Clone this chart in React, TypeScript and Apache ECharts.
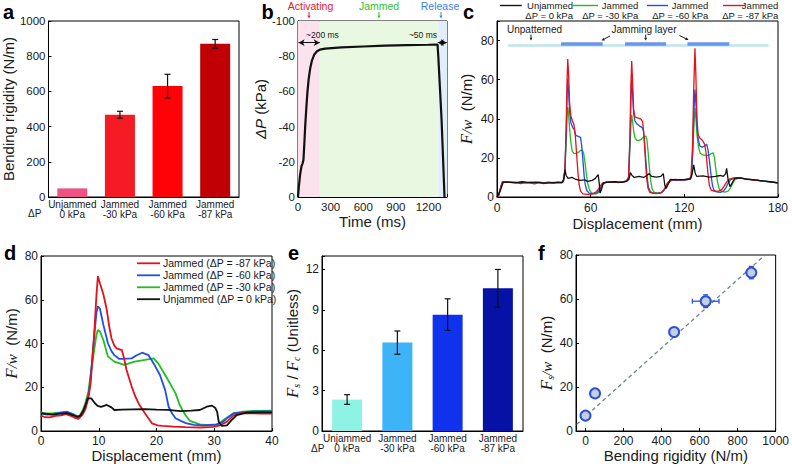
import React, { useEffect, useRef } from 'react';
import * as echarts from 'echarts';

const FONT = '"Liberation Sans", Arial, Helvetica, sans-serif';
const SERIF = '"Liberation Serif", "Times New Roman", serif';

// ---------- Panel a: bending rigidity ----------
const barCategories = ['Unjammed\n0 kPa', 'Jammed\n-30 kPa', 'Jammed\n-60 kPa', 'Jammed\n-87 kPa'];
const rigidity = [49, 467, 631, 871];
const rigidityLow = [49, 448, 562, 846];
const rigidityHigh = [49, 487, 697, 895];
const rigidityColors = ['#ee5383', '#f51a24', '#fe0205', '#c10006'];

// ---------- Panel b: pressure vs time ----------
const timeMs = [0, 8, 20, 32, 42, 50, 58, 66, 76, 86, 98, 112, 128, 150, 175, 200, 250, 400, 600, 800, 1000, 1200, 1283, 1290, 1305, 1320, 1335, 1347];
const pressureKPa = [0, -6, -13, -17.5, -19, -21, -30, -40, -50, -59, -67, -73, -77.5, -81, -82.8, -83.7, -84.3, -85, -85.5, -86, -86.3, -86.5, -86.6, -80, -62, -44, -20, 0];
const phaseBounds = [0, 200, 1290, 1370];
const phaseNames = ['Activating', 'Jammed', 'Release'];
const durationSpans = [[5, 200], [1285, 1368]];
const durationLabels = ['~200 ms', '~50 ms'];
const durationLevel = -87.7;

// ---------- Panel c: force vs displacement, patterned ----------
const cBlack = [[0,0],[2,3],[4,7.5],[8,7.6],[12,7.2],[16,7.8],[20,7.3],[25,7.6],[30,7.1],[35,7.4],[40,7.5],[42,7.5],[43,10],[43.6,14],[44.3,11],[45.5,9.5],[48,10],[50,9.2],[53,8.5],[56,8.8],[58,8],[61,8.5],[63,9.5],[64.8,11.5],[65.5,7],[66,2],[67,4],[68,7.2],[70,7.5],[75,7.8],[80,7.5],[83,8],[84.5,9],[85.5,12.5],[86.5,11],[88,10],[91,10.5],[94,10],[96,11],[97.5,12],[99,10.5],[102,10.2],[105,10.5],[106.5,12],[107.5,6],[108.3,4.4],[110,7],[111,9],[115,8.8],[120,9],[124,9.2],[125,12],[126,16.4],[127,12],[128,10.5],[132,10.8],[136,10.2],[140,10.5],[143,11],[145,10.5],[146.5,12],[147.1,14.7],[148,9],[149.2,5.3],[150.5,7],[152.3,9.6],[156,9.8],[160,9],[165,8.8],[170,8.2],[175,7.8],[180,7.2]];
const cRed = [[0,0],[1,0.5],[2.5,5],[3.5,7.6],[6,7.8],[9,7.3],[12,7.5],[15,6.8],[18,7.4],[21,7.2],[24,6.7],[27,7.3],[30,6.9],[33,7.4],[36,7],[39,7.3],[41.5,7.2],[42.6,8.2],[43.5,14],[44.3,35],[44.9,60],[45.3,70.5],[45.8,64],[46.5,48],[47.3,41.5],[48.3,39],[49.3,37],[50.2,31],[51,22],[51.8,13],[52.6,6.5],[53.5,3],[55,1.6],[58,1.3],[61,1.5],[63,2.2],[64.5,3.5],[66,5.5],[67.5,7],[70,7.6],[74,7.8],[78,7.4],[81,7.7],[83,8.2],[84.3,10],[85.2,32],[85.8,58],[86.3,69.5],[86.8,60],[87.5,45],[88.3,41],[90,40.5],[92,40],[93.3,38.5],[94.2,31],[95,20],[95.8,10],[96.7,4.5],[98,2.3],[101,1.8],[104,1.9],[106,2.8],[107.5,4.5],[109,7],[111,8.6],[114,9],[118,8.7],[122,9],[124.2,10],[125.2,25],[126,55],[126.8,76],[127.4,62],[128.1,40],[128.8,32],[130,30],[131.5,29],[133,27],[134,22],[135,13],[136,6],[137.2,3.5],[139,3],[142,3],[144,3.8],[145.5,5.5],[147,7.5],[148.5,9],[151,9.6],[155,9.8],[160,9.1],[165,8.7],[170,8.1],[175,7.8],[180,7.1]];
const cBlue = [[0,0],[1,0.8],[2.5,5.5],[3.5,7.8],[6,7.6],[9,7.6],[12,7.3],[15,7.5],[18,7.2],[21,7.6],[24,7.3],[27,7.5],[30,7.2],[33,7.6],[36,7.3],[39,7.6],[41.5,7.4],[42.6,8.5],[43.5,14],[44.3,32],[44.9,52],[45.3,60.5],[45.8,55],[46.5,44],[47.3,38],[48.5,35.5],[49.5,34.5],[50.5,31.5],[52,31],[53.5,30.5],[54.3,26],[55,19],[55.8,11],[56.6,6],[57.6,3.2],[59,2],[62,1.8],[64,2.2],[65.5,3.5],[67,5.5],[68.5,7.2],[70,7.6],[74,7.7],[78,7.5],[81,7.8],[83,8.2],[84.3,10],[85.2,30],[85.8,50],[86.3,60],[86.8,54],[87.5,43],[88.3,39],[89.5,37.5],[91,36.5],[93,35.5],[93.8,34],[94.6,27],[95.4,18],[96.2,10],[97,5],[98.3,2.7],[100,2],[103,1.9],[105.5,2.3],[107,3.5],[108.5,5.5],[110,7.5],[112,8.7],[116,8.8],[120,8.7],[123.5,9.2],[124.6,10.5],[125.4,25],[126.2,45],[126.8,55],[127.4,48],[128.2,35],[129,29],[130,26],[131.5,25.5],[133,26],[134.3,27],[135.2,24],[136,19],[137,12],[138,6],[139,3.5],[140.5,2.6],[143,2.4],[145,3],[146.5,4.5],[148,7],[149.5,8.8],[152,9.6],[156,9.7],[160,9.3],[165,8.6],[170,8.2],[175,7.7],[180,7.2]];
const cGreen = [[0,0],[1,0.6],[2.5,5.2],[3.5,7.7],[6,7.7],[9,7.5],[12,7.6],[15,7.2],[18,7.6],[21,7.4],[24,7.1],[27,7.6],[30,7.3],[33,7.5],[36,7.2],[39,7.5],[41.5,7.3],[42.6,8.4],[43.5,13],[44.3,28],[44.9,41],[45.3,46],[45.8,43],[46.5,35],[47.3,28],[48.2,23.5],[49.2,22.3],[50.5,22.2],[52,22.8],[53.5,23.8],[54.6,24],[55.5,22.5],[56.3,18],[57.2,12],[58.2,6.5],[59.3,3.5],[60.6,2],[63,1.5],[65,2.2],[66.5,4],[68,6.5],[70,7.5],[74,7.8],[78,7.5],[81,7.7],[83,8.2],[84.3,10],[85.2,26],[85.8,37],[86.3,42],[86.8,39],[87.5,34],[88.3,30.5],[89.5,29],[91,29],[92.5,29.5],[94,30.8],[95.3,31.2],[96,29.5],[96.8,23],[97.6,15],[98.4,8.5],[99.4,4],[100.8,2.3],[103,2],[105.5,2.2],[107,3.5],[108.5,5.5],[110,7.5],[112,8.7],[116,8.9],[120,8.6],[123.5,9.2],[124.6,10.5],[125.4,22],[126.2,38],[126.8,45.5],[127.4,40],[128.2,31],[129.2,25],[130.2,22.4],[132,21.5],[134,21.2],[136,21.5],[137.5,22.3],[138.5,22.5],[139.3,20],[140.2,14],[141.2,8],[142.2,4.5],[143.5,3],[146,2.5],[148,3],[149.5,4.5],[151,7],[152.5,9],[155,9.7],[160,9.3],[165,8.8],[170,8.2],[175,7.7],[180,7.3]];
const layerSpan = [7, 174];
const layerLevel = 77.7;
const jamSegments = [[41, 67.7], [82, 108.3], [122, 148.8]];
const jamLevel = 78.6;
const cLegendTop = ['Unjammed', 'Jammed', 'Jammed', 'Jammed'];
const cLegendBottom = ['ΔP = 0 kPa', 'ΔP = -30 kPa', 'ΔP = -60 kPa', 'ΔP = -87 kPa'];

// ---------- Panel d: single peak ----------
const dRed = [[0,7],[0.7,6.3],[1.5,6.2],[2.5,6.9],[3.5,7.2],[4.3,7.7],[5.2,6.9],[6.0,5.9],[6.5,5.6],[7.2,7.5],[7.7,10],[8.2,15],[8.6,22],[9.2,44],[9.6,62],[9.85,70.8],[10.2,67.5],[10.8,62.5],[11.4,55.3],[11.8,48],[12.2,42.4],[12.7,39],[13.1,37.8],[14.0,37],[14.4,33],[14.8,28],[15.7,20.3],[16.3,16],[16.9,12.6],[18,8.1],[18.7,5.5],[19.2,3.5],[20.2,2.6],[21,2.3],[23,2],[25,1.8],[27.5,1.6],[29.8,1.9],[31,2.6],[32.2,4.3],[33.3,7],[34.5,8.1],[36,8.2],[38,8],[40,8]];
const dBlue = [[0,8.1],[1,7.5],[2,7.6],[3,8.2],[4.5,8.8],[5.5,7.6],[6.3,6.2],[6.7,6.5],[7.3,9],[7.7,11],[8.2,16],[8.5,21.8],[9.2,43],[9.6,54],[9.85,57],[10.2,56],[10.8,48.5],[11.6,40],[12.2,36.5],[12.7,34.7],[13.5,33],[14,33],[15.7,33.2],[16.5,34.5],[17.5,35.8],[18.6,34.7],[19.5,30.9],[20.6,25.6],[21.5,18.7],[22.1,11.1],[22.7,8],[23.3,5.8],[24.3,4.5],[25.2,3.5],[26.5,2.8],[28.1,2.6],[30.4,3],[31.4,4],[32.2,5.8],[33.3,8],[35.6,8.7],[38,9],[40,9]];
const dGreen = [[0,8.5],[1,8],[2,8.1],[3,8.4],[4.5,8.6],[5.5,7.8],[6.3,6.8],[6.7,7],[7.3,10],[7.7,13],[8.2,18],[8.5,24],[9.2,37],[9.6,44],[9.85,46.2],[10.2,45.5],[10.8,41.6],[11.6,34],[12.7,31.7],[14.4,30.2],[16.2,31.7],[18,32.5],[19.5,33.2],[20.3,30.9],[21.5,25.6],[22.5,21],[23.3,17.2],[24.0,12],[24.5,9.6],[25,7.3],[25.8,4.6],[27.5,3.0],[29.8,2.5],[30.6,3],[31.6,5],[33.3,8],[35,8.8],[37,9.2],[40,9.3]];
const dBlack = [[0,8.1],[1,7.8],[2,7.5],[3,7.8],[4.5,8.2],[5.5,7.3],[6.3,6.5],[6.8,7],[7.3,9],[7.6,11.1],[8.1,14.9],[8.7,14.9],[9.3,12.8],[9.8,11.5],[10.4,11],[11.4,11.9],[12.2,10.8],[12.7,9.6],[14,9.8],[16,9.9],[18,10],[20,9.8],[22,9.7],[24.1,9.1],[26,9.3],[27.5,9.6],[28.7,11.1],[29.6,11.6],[30.2,10.5],[30.5,8.7],[30.8,4],[31.3,2.3],[32.2,2.6],[33,5],[33.9,7.3],[35.6,8.4],[38,8.5],[40,8.5]];
const dLegendNames = ['Jammed (ΔP = -87 kPa)', 'Jammed (ΔP = -60 kPa)', 'Jammed (ΔP = -30 kPa)', 'Unjammed (ΔP = 0 kPa)'];

// ---------- Panel e: force ratio ----------
const forceRatio = [2.33, 6.57, 8.64, 10.6];
const forceRatioLow = [1.98, 5.7, 7.48, 9.2];
const forceRatioHigh = [2.7, 7.43, 9.82, 12.0];
const ratioColors = ['#8ef3e4', '#3cb4f7', '#0f33ec', '#0612a6'];

// ---------- Panel f: force vs rigidity ----------
const fRigidity = [0, 50, 466, 632, 872];
const fForce = [7, 17.1, 45, 59, 72];
const fRigidityErr = [0, 0, 0, 70, 0];
const fForceErr = [0, 0, 0, 2.9, 2.8];
const fitX = [-47, 944];
const fitY = [3, 80];

const RED = '#e3121c';
const BLUE = '#1e4fe6';
const GREEN = '#1fbf1f';
const BLACK = '#111111';
const TXT = '#1a1a1a';

function txt(x: number, y: number, text: string, o: any = {}) {
  const font = `${o.italic ? 'italic ' : ''}${o.bold ? 'bold ' : ''}${o.size || 10}px ${o.family || FONT}`;
  return {
    type: 'text', x, y, silent: true, z: 100,
    style: {
      text, fill: o.color || TXT, font,
      textAlign: o.align || 'left', align: o.align || 'left',
      textVerticalAlign: o.valign || 'middle', verticalAlign: o.valign || 'middle',
    },
  };
}

function arrow(x1: number, y1: number, x2: number, y2: number, color = TXT, head = 3.5, hw = 1.8) {
  const dx = x2 - x1, dy = y2 - y1, L = Math.hypot(dx, dy);
  const ux = dx / L, uy = dy / L;
  const bx = x2 - ux * head, by = y2 - uy * head;
  return [
    { type: 'line', silent: true, z: 100, shape: { x1, y1, x2: bx, y2: by }, style: { stroke: color, lineWidth: 1 } },
    { type: 'polygon', silent: true, z: 100, shape: { points: [[x2, y2], [bx - uy * hw, by + ux * hw], [bx + uy * hw, by - ux * hw]] }, style: { fill: color } },
  ];
}

function errBars(_p: any, api: any) {
  const x = api.value(0), lo = api.value(1), hi = api.value(2);
  const children: any[] = [];
  if (hi - lo > 0) {
    const t = api.coord([x, hi]);
    const b = api.coord([x, lo]);
    const w = 3;
    const st = { stroke: '#111', lineWidth: 1.2 };
    children.push({ type: 'line', shape: { x1: t[0], y1: t[1], x2: b[0], y2: b[1] }, style: st });
    children.push({ type: 'line', shape: { x1: t[0] - w, y1: t[1], x2: t[0] + w, y2: t[1] }, style: st });
    children.push({ type: 'line', shape: { x1: b[0] - w, y1: b[1], x2: b[0] + w, y2: b[1] }, style: st });
  }
  return { type: 'group', children };
}

function xyErrBars(_p: any, api: any) {
  const x = api.value(0), y = api.value(1), ex = api.value(2), ey = api.value(3);
  const st = { stroke: '#2a52d8', lineWidth: 1.3 };
  const children: any[] = [];
  const w = 2.5;
  if (ex > 0) {
    const l = api.coord([x - ex, y]);
    const r = api.coord([x + ex, y]);
    children.push({ type: 'line', shape: { x1: l[0], y1: l[1], x2: r[0], y2: r[1] }, style: st });
    children.push({ type: 'line', shape: { x1: l[0], y1: l[1] - w, x2: l[0], y2: l[1] + w }, style: st });
    children.push({ type: 'line', shape: { x1: r[0], y1: r[1] - w, x2: r[0], y2: r[1] + w }, style: st });
  }
  if (ey > 0) {
    const t = api.coord([x, y + ey]);
    const b = api.coord([x, y - ey]);
    children.push({ type: 'line', shape: { x1: t[0], y1: t[1], x2: b[0], y2: b[1] }, style: st });
    children.push({ type: 'line', shape: { x1: t[0] - w, y1: t[1], x2: t[0] + w, y2: t[1] }, style: st });
    children.push({ type: 'line', shape: { x1: b[0] - w, y1: b[1], x2: b[0] + w, y2: b[1] }, style: st });
  }
  return { type: 'group', children };
}

const plain = (v: number) => String(v);
const axisLine = { show: true, onZero: false, lineStyle: { color: '#000', width: 1 } };
const axisTick = { show: true, inside: true, length: 3, lineStyle: { color: '#000', width: 1 } };
const lbl = (size = 12, margin = 4, extra: any = {}) => ({ color: TXT, fontSize: size, fontFamily: FONT, margin, formatter: plain, ...extra });
const nameStyle = (extra: any = {}) => ({ color: TXT, fontSize: 15, fontFamily: FONT, ...extra });

const italicSerif = (size: number, extra: any = {}) => ({ fontFamily: SERIF, fontStyle: 'italic', fontSize: size, color: TXT, ...extra });

function buildOption(): any {
  const grids = [
    { left: 41, top: 21, width: 198, height: 176 },
    { left: 298, top: 21, width: 149, height: 176 },
    { left: 497, top: 21, width: 281, height: 176 },
    { left: 41, top: 256, width: 231, height: 175 },
    { left: 322, top: 256, width: 201, height: 175 },
    { left: 576, top: 255, width: 202, height: 176 },
  ].map(g => ({ ...g, show: true, borderColor: '#000', borderWidth: 1, backgroundColor: 'transparent' }));

  const catAxis = (gi: number) => ({
    type: 'category', gridIndex: gi, data: barCategories,
    axisLine, axisTick: { show: false },
    axisLabel: { color: TXT, fontSize: 10, fontFamily: FONT, margin: 2, lineHeight: 10.5, interval: 0 },
    splitLine: { show: false },
  });
  const valAxis = (gi: number, min: number, max: number, interval: number | undefined, extra: any = {}) => ({
    type: 'value', gridIndex: gi, min, max, interval,
    axisLine, axisTick, splitLine: { show: false },
    ...extra,
  });

  const xAxis = [
    catAxis(0),
    valAxis(1, 0, 1370, 300, {
      axisLabel: lbl(11.5, 4, { formatter: (v: number) => (v > 1200 ? '' : String(v)) }),
      name: 'Time (ms)', nameLocation: 'middle', nameGap: 15, nameTextStyle: nameStyle(),
    }),
    valAxis(2, 0, 180, 60, {
      axisLabel: lbl(12, 5),
      name: 'Displacement (mm)', nameLocation: 'middle', nameGap: 19, nameTextStyle: nameStyle(),
    }),
    valAxis(3, 0, 40, 10, {
      axisLabel: lbl(12, 4),
      name: 'Displacement (mm)', nameLocation: 'middle', nameGap: 17, nameTextStyle: nameStyle(),
    }),
    catAxis(4),
    valAxis(5, -50, 1000, undefined, {
      splitNumber: 5,
      axisLabel: lbl(12, 4, { formatter: (v: number) => (v < 0 ? '' : String(v)) }),
      name: 'Bending rigidity (N/m)', nameLocation: 'middle', nameGap: 12, nameTextStyle: nameStyle(),
    }),
  ];

  const yAxis = [
    valAxis(0, 0, 1000, 200, {
      axisLabel: lbl(11.5, 3),
      name: 'Bending rigidity (N/m)', nameLocation: 'middle', nameGap: 25, nameTextStyle: nameStyle(),
    }),
    valAxis(1, -100, 0, 20, {
      inverse: true,
      axisLabel: lbl(11.5, 3),
      name: '{i|ΔP} (kPa)', nameLocation: 'middle', nameGap: 17,
      nameTextStyle: nameStyle({ rich: { i: { fontStyle: 'italic', fontFamily: FONT, fontSize: 15, color: TXT } } }),
    }),
    valAxis(2, 0, 90, 20, {
      axisLabel: lbl(12, 3, { formatter: (v: number) => (v > 80 ? '' : String(v)) }),
      name: '{f|F}{w|/w}  {n|(N/m)}', nameLocation: 'middle', nameGap: 22,
      nameTextStyle: nameStyle({ rich: { f: italicSerif(17), w: italicSerif(15), n: { fontFamily: FONT, fontSize: 15, color: TXT } } }),
    }),
    valAxis(3, 0, 80, 20, {
      axisLabel: lbl(12, 3),
      name: '{f|F}{w|/w}  {n|(N/m)}', nameLocation: 'middle', nameGap: 21,
      nameTextStyle: nameStyle({ rich: { f: italicSerif(17), w: italicSerif(15), n: { fontFamily: FONT, fontSize: 15, color: TXT } } }),
    }),
    valAxis(4, 0, 13, 3, {
      axisLabel: lbl(12, 3, { formatter: (v: number) => (v > 12 ? '' : String(v)) }),
      name: '{f|F}{s|s}{n| / }{f|F}{s|c}{n| (Unitless)}', nameLocation: 'middle', nameGap: 19,
      nameTextStyle: nameStyle({
        rich: {
          f: italicSerif(17, { lineHeight: 18 }),
          s: italicSerif(10, { lineHeight: 10, verticalAlign: 'bottom' }),
          n: { fontFamily: FONT, fontSize: 15, color: TXT, lineHeight: 18 },
        },
      }),
    }),
    valAxis(5, 0, 80, 20, {
      axisLabel: lbl(12, 3),
      name: '{f|F}{s|s}{w|/w}  {n|(N/m)}', nameLocation: 'middle', nameGap: 14,
      nameTextStyle: nameStyle({
        padding: [0, 20, 0, 0],
        rich: {
          f: italicSerif(17, { lineHeight: 18 }),
          s: italicSerif(10, { lineHeight: 10, verticalAlign: 'bottom' }),
          w: italicSerif(15, { lineHeight: 18 }),
          n: { fontFamily: FONT, fontSize: 15, color: TXT, lineHeight: 18 },
        },
      }),
    }),
  ];

  const line = (name: string, xi: number, data: number[][], color: string, width: number, z: number) => ({
    type: 'line', name, xAxisIndex: xi, yAxisIndex: xi, data, showSymbol: false, symbol: 'none',
    lineStyle: { color, width }, itemStyle: { color }, z, silent: true, clip: true,
  });

  const series: any[] = [
    // a
    {
      type: 'bar', xAxisIndex: 0, yAxisIndex: 0, barWidth: 30, z: 2, silent: true,
      data: rigidity.map((v, i) => ({ value: v, itemStyle: { color: rigidityColors[i] } })),
    },
    {
      type: 'custom', xAxisIndex: 0, yAxisIndex: 0, z: 5, silent: true, renderItem: errBars,
      data: rigidityLow.map((lo, i) => [i, lo, rigidityHigh[i]]),
    },
    // b shading + duration arrows
    {
      type: 'line', xAxisIndex: 1, yAxisIndex: 1, data: [], z: 1, silent: true,
      markArea: {
        silent: true,
        data: phaseNames.map((_, i) => [
          { xAxis: phaseBounds[i], itemStyle: { color: ['#fbe2ec', '#e8f8e1', '#e1edf9'][i] } },
          { xAxis: phaseBounds[i + 1] },
        ]),
      },
      markLine: {
        silent: true, symbol: ['arrow', 'arrow'], symbolSize: [5, 6],
        lineStyle: { color: '#111', width: 1, type: 'solid' }, label: { show: false },
        data: durationSpans.map(s => [{ coord: [s[0], durationLevel] }, { coord: [s[1], durationLevel] }]),
      },
    },
    line('pressure', 1, timeMs.map((t, i) => [t, pressureKPa[i]]), BLACK, 2.2, 3),
    // c
    {
      type: 'lines', coordinateSystem: 'cartesian2d', xAxisIndex: 2, yAxisIndex: 2, silent: true, z: 1,
      lineStyle: { color: '#bde7ef', width: 2.5, opacity: 1, curveness: 0 },
      data: [{ coords: [[layerSpan[0], layerLevel], [layerSpan[1], layerLevel]] }],
    },
    {
      type: 'lines', coordinateSystem: 'cartesian2d', xAxisIndex: 2, yAxisIndex: 2, silent: true, z: 2,
      lineStyle: { color: '#6f93ea', width: 3.5, opacity: 1, curveness: 0 },
      data: jamSegments.map(s => ({ coords: [[s[0], jamLevel], [s[1], jamLevel]] })),
    },
    line('c -30', 2, cGreen, GREEN, 1.3, 3),
    line('c -60', 2, cBlue, BLUE, 1.3, 4),
    line('c -87', 2, cRed, RED, 1.3, 5),
    line('c 0', 2, cBlack, BLACK, 1.3, 6),
    // d
    line(dLegendNames[2], 3, dGreen, GREEN, 1.8, 3),
    line(dLegendNames[1], 3, dBlue, BLUE, 1.8, 4),
    line(dLegendNames[0], 3, dRed, RED, 1.8, 5),
    line(dLegendNames[3], 3, dBlack, BLACK, 1.8, 6),
    // e
    {
      type: 'bar', xAxisIndex: 4, yAxisIndex: 4, barWidth: 30, z: 2, silent: true,
      data: forceRatio.map((v, i) => ({ value: v, itemStyle: { color: ratioColors[i] } })),
    },
    {
      type: 'custom', xAxisIndex: 4, yAxisIndex: 4, z: 5, silent: true, renderItem: errBars,
      data: forceRatioLow.map((lo, i) => [i, lo, forceRatioHigh[i]]),
    },
    // f
    {
      type: 'line', xAxisIndex: 5, yAxisIndex: 5, silent: true, z: 2, showSymbol: false, symbol: 'none',
      lineStyle: { color: '#6d8585', width: 1.3, type: [4, 3] },
      data: fitX.map((x, i) => [x, fitY[i]]),
    },
    {
      type: 'custom', xAxisIndex: 5, yAxisIndex: 5, z: 3, silent: true, renderItem: xyErrBars,
      data: fRigidity.map((x, i) => [x, fForce[i], fRigidityErr[i], fForceErr[i]]),
    },
    {
      type: 'scatter', xAxisIndex: 5, yAxisIndex: 5, z: 4, silent: true, symbolSize: 10,
      itemStyle: { color: '#c6cee2', borderColor: '#2a52d8', borderWidth: 2, opacity: 1 },
      data: fRigidity.map((x, i) => [x, fForce[i]]),
    },
  ];

  const graphic: any[] = [];
  // panel letters
  const letters: [string, number, number][] = [['a', 3, 12], ['b', 261.5, 12], ['c', 463, 12], ['d', 4, 252.5], ['e', 288, 252.5], ['f', 538, 252.5]];
  letters.forEach(([t, x, y]) => graphic.push(txt(x, y, t, { bold: true, size: 20, color: '#000' })));

  // ΔP row labels under bar charts
  graphic.push(txt(28, 213.5, 'ΔP', { size: 10 }));
  graphic.push(txt(311, 448.5, 'ΔP', { size: 10 }));

  // b phase labels
  const phaseColors = ['#e3202c', '#2fbf2f', '#3b7fe6'];
  const phaseLabelX = [310.5, 379, 440];
  const phaseArrowX = [309, 379, 441];
  phaseNames.forEach((n, i) => {
    graphic.push(txt(phaseLabelX[i], 6, n, { size: 10.5, color: phaseColors[i], align: 'center' }));
    graphic.push(...arrow(phaseArrowX[i], 12, phaseArrowX[i], 18.5, phaseColors[i], 3, 1.6));
  });
  graphic.push(txt(306, 35, durationLabels[0], { size: 8.5 }));
  graphic.push(txt(437, 35, durationLabels[1], { size: 8.5, align: 'right' }));

  // c legend
  const cColors = [BLACK, GREEN, BLUE, RED];
  const cLineX = [[500, 521.7], [572, 598], [647, 668], [723, 745]];
  const cRight = [573, 638.3, 708.3, 778.3];
  cColors.forEach((c, i) => {
    graphic.push({ type: 'line', silent: true, z: 100, shape: { x1: cLineX[i][0], y1: 5.5, x2: cLineX[i][1], y2: 5.5 }, style: { stroke: c, lineWidth: 1.4 } });
    graphic.push(txt(cRight[i], 5, cLegendTop[i], { size: 9.5, align: 'right' }));
    graphic.push(txt(cRight[i], 15.5, cLegendBottom[i], { size: 9.5, align: 'right' }));
  });
  // c annotations
  graphic.push(txt(507, 29, 'Unpatterned', { size: 10 }));
  graphic.push(...arrow(531, 34.5, 531, 40.5, TXT, 2.8, 1.5));
  graphic.push(txt(644, 29, 'Jamming layer', { size: 10, align: 'center' }));
  graphic.push(...arrow(610, 36, 601.5, 40.5, TXT, 3, 1.6));
  graphic.push(...arrow(645.7, 34.5, 645.7, 40.5, TXT, 2.8, 1.5));
  graphic.push(...arrow(679.5, 35.5, 688.5, 40, TXT, 3, 1.6));

  // d legend
  const dColors = [RED, BLUE, GREEN, BLACK];
  const dRowY = [263.3, 275.3, 287.3, 299.2];
  dColors.forEach((c, i) => {
    graphic.push({ type: 'line', silent: true, z: 100, shape: { x1: 137, y1: dRowY[i], x2: 160, y2: dRowY[i] }, style: { stroke: c, lineWidth: 1.8 } });
    graphic.push(txt(163, dRowY[i], dLegendNames[i], { size: 10.5 }));
  });

  return {
    animation: false,
    backgroundColor: '#ffffff',
    textStyle: { fontFamily: FONT },
    grid: grids,
    xAxis,
    yAxis,
    series,
    graphic,
  };
}

export default function App() {
  const ref = useRef<HTMLDivElement>(null);
  useEffect(() => {
    document.body.style.margin = '0';
    const chart = echarts.init(ref.current as HTMLDivElement, undefined, { renderer: 'svg', width: 792, height: 468 });
    chart.setOption(buildOption());
    return () => chart.dispose();
  }, []);
  return <div ref={ref} style={{ position: 'absolute', left: 0, top: 0, width: 792, height: 468, background: '#fff' }} />;
}
